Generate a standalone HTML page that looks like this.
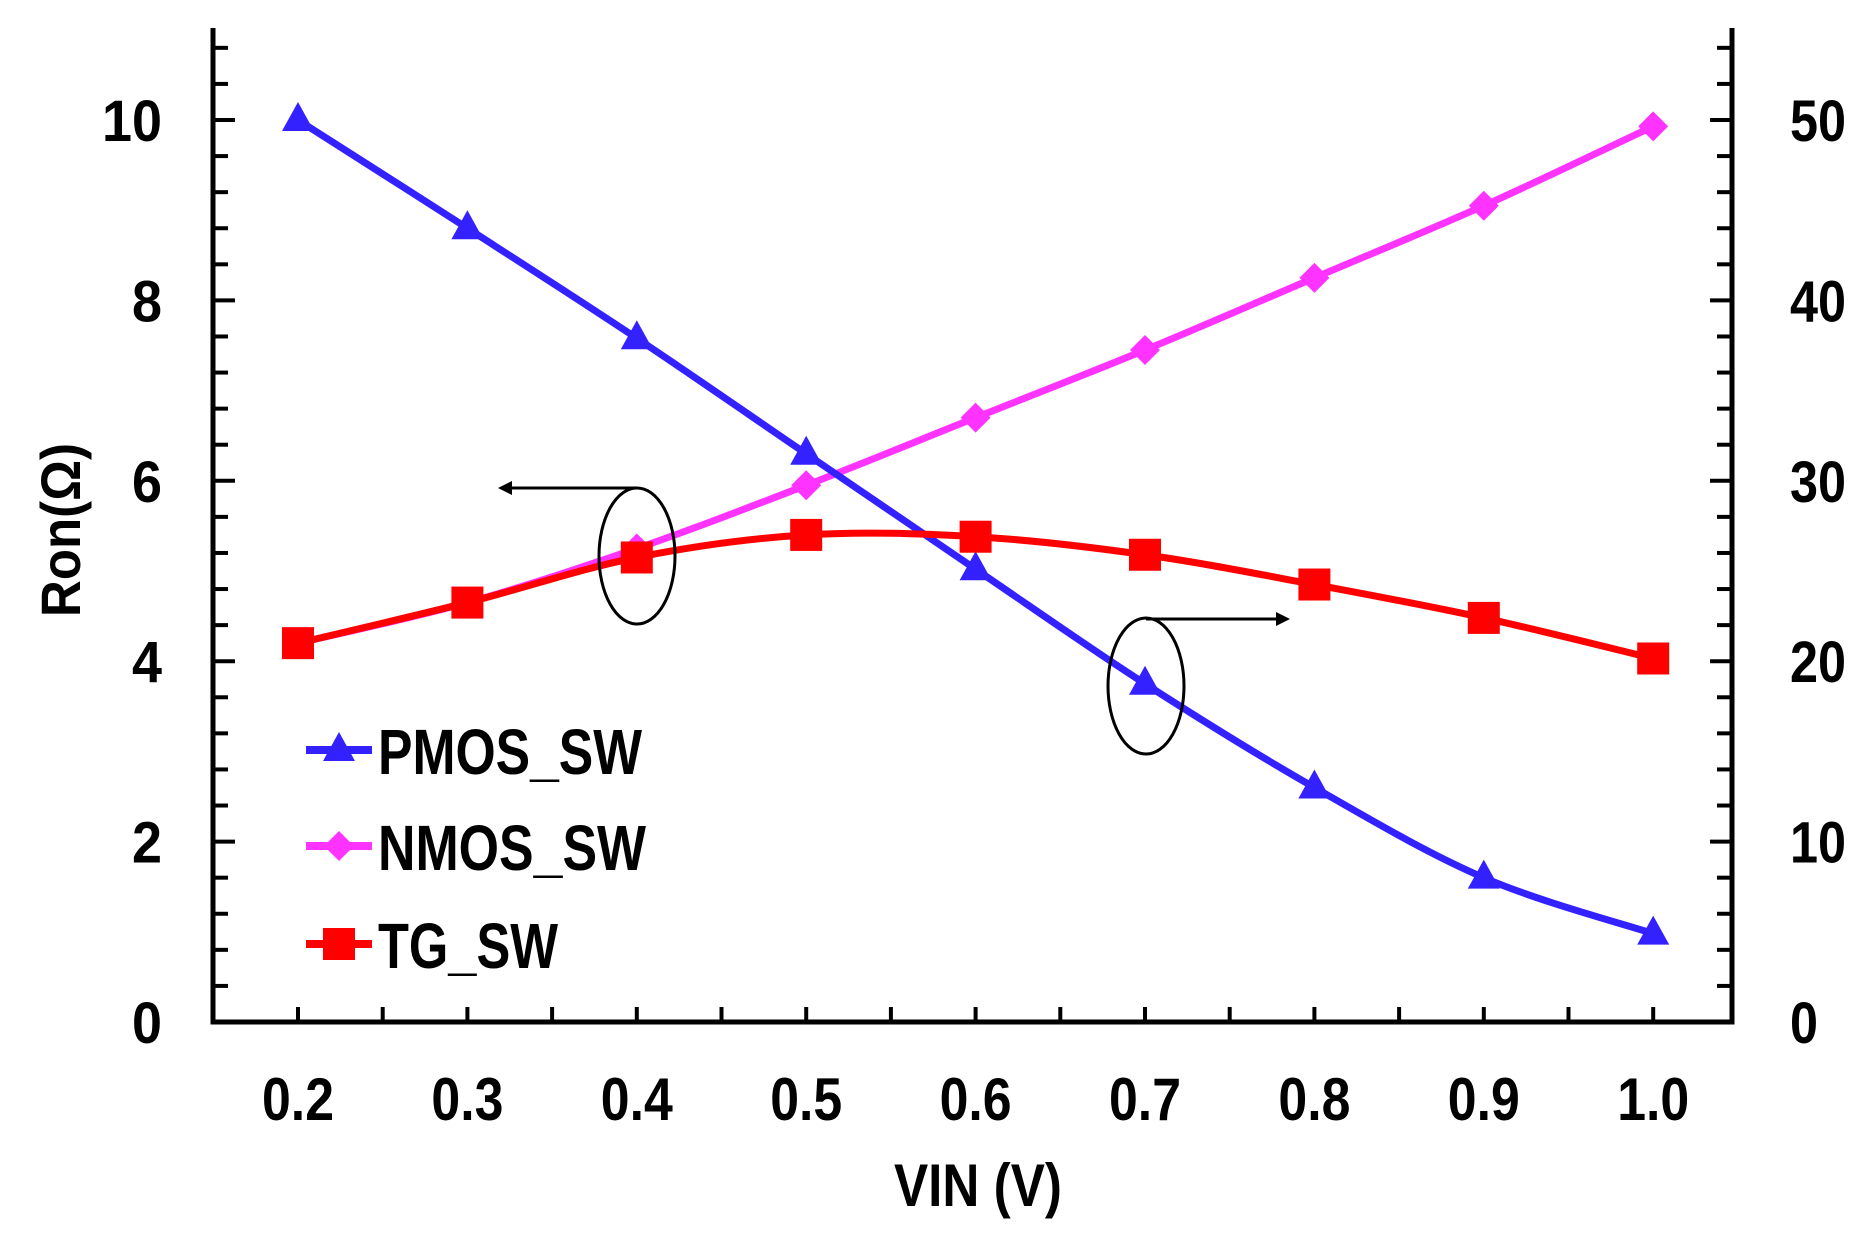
<!DOCTYPE html>
<html><head><meta charset="utf-8"><style>
html,body{margin:0;padding:0;background:#fff;}
svg{display:block;}
text{font-family:"Liberation Sans Narrow","Liberation Sans",sans-serif;font-weight:bold;fill:#000;}
</style></head><body>
<svg id="chart" width="1872" height="1233" viewBox="0 0 1872 1233" xmlns="http://www.w3.org/2000/svg">
<g id="axes"></g>
<g id="series"></g>
<g id="annot">
  <ellipse cx="637" cy="556" rx="38" ry="68" fill="none" stroke="#000" stroke-width="3"/>
  <path d="M637 488 H502" stroke="#000" stroke-width="3" fill="none"/>
  <path d="M512 481 L498 488 L512 495 Z" fill="#000"/>
  <ellipse cx="1146" cy="686" rx="38" ry="68" fill="none" stroke="#000" stroke-width="3"/>
  <path d="M1146 619 H1286" stroke="#000" stroke-width="3" fill="none"/>
  <path d="M1276 612 L1290 619 L1276 626 Z" fill="#000"/>
</g>
<g id="legend"></g>
</svg>
<script>
const xValues=[0.2,0.3,0.4,0.5,0.6,0.7,0.8,0.9,1.0];
const pmos=[10,8.8,7.58,6.3,5.02,3.75,2.6,1.6,0.98];
const nmos=[4.2,4.65,5.25,5.95,6.7,7.45,8.25,9.05,9.93];
const tg=[4.2,4.65,5.15,5.4,5.38,5.18,4.85,4.48,4.03];
const xTickLabels=["0.2","0.3","0.4","0.5","0.6","0.7","0.8","0.9","1.0"];
const leftTicks=[0,2,4,6,8,10];
const rightTickLabels=["0","10","20","30","40","50"];
const NS="http://www.w3.org/2000/svg";
const L=213,R=1732,B=1022,T=28;
function xs(v){return 298+(v-0.2)*1694;}
function ys(v){return B-v*90.2;}
function mk(tag,attrs,parent){const e=document.createElementNS(NS,tag);for(const k in attrs)e.setAttribute(k,attrs[k]);parent.appendChild(e);return e;}
const ax=document.getElementById('axes');
const a1=mk('path',{d:`M${L} ${T} V${B} H${R} V${T}`,stroke:'#000','stroke-width':5,fill:'none'},ax);


for(let v=0;v<=11.001;v+=0.4){
  const y=ys(v);const major=Math.abs(v/2-Math.round(v/2))<0.01;const len=major?22:15;
  mk('line',{x1:L,y1:y,x2:L+len,y2:y,stroke:'#000','stroke-width':4},ax);
}
for(let v=0;v<=55.01;v+=2){
  const y=ys(v/5);const major=v%10===0;const len=major?22:15;
  mk('line',{x1:R,y1:y,x2:R-len,y2:y,stroke:'#000','stroke-width':4},ax);
}
for(let v=0.15;v<=1.0501;v+=0.05){
  const x=xs(v);
  if(x<L+5||x>R-5)continue;
  mk('line',{x1:x,y1:B,x2:x,y2:B-15,stroke:'#000','stroke-width':4},ax);
}
leftTicks.forEach((v,i)=>{
  const s=String(v);
  const t=mk('text',{x:162,y:ys(v)+21,'text-anchor':'end','font-size':58,textLength:s.length*30,lengthAdjust:'spacingAndGlyphs'},ax);
  t.textContent=s;
  
  
  const rs=rightTickLabels[i];
  const r=mk('text',{x:1790,y:ys(v)+21,'font-size':58,textLength:rs.length*28,lengthAdjust:'spacingAndGlyphs'},ax);
  r.textContent=rs;
  
  
});
xValues.forEach((v,i)=>{
  const t=mk('text',{x:xs(v),y:1120,'text-anchor':'middle','font-size':60,textLength:72,lengthAdjust:'spacingAndGlyphs'},ax);
  t.textContent=xTickLabels[i];
  
  
});
const xt=mk('text',{x:978,y:1206,'text-anchor':'middle','font-size':60,textLength:168,lengthAdjust:'spacingAndGlyphs'},ax);
xt.textContent='VIN (V)';


const yt=mk('text',{x:0,y:0,'text-anchor':'middle','font-size':56,textLength:174,lengthAdjust:'spacingAndGlyphs',transform:'translate(80,530) rotate(-90)'},ax);
yt.textContent='Ron(Ω)';



function smooth(pts){
  let d=`M${pts[0][0]} ${pts[0][1]}`;
  for(let i=0;i<pts.length-1;i++){
    const p0=pts[Math.max(0,i-1)],p1=pts[i],p2=pts[i+1],p3=pts[Math.min(pts.length-1,i+2)];
    const c1=[p1[0]+(p2[0]-p0[0])/6,p1[1]+(p2[1]-p0[1])/6];
    const c2=[p2[0]-(p3[0]-p1[0])/6,p2[1]-(p3[1]-p1[1])/6];
    d+=` C${c1[0]} ${c1[1]} ${c2[0]} ${c2[1]} ${p2[0]} ${p2[1]}`;
  }
  return d;
}
function marker(type,x,y,color,parent){
  if(type==='tri')return mk('path',{d:`M${x} ${y-18} L${x+16} ${y+11} L${x-16} ${y+11} Z`,fill:color},parent);
  if(type==='dia')return mk('path',{d:`M${x} ${y-15} L${x+15} ${y} L${x} ${y+15} L${x-15} ${y} Z`,fill:color},parent);
  return mk('rect',{x:x-16,y:y-16,width:32,height:32,fill:color},parent);
}
const sg=document.getElementById('series');
const defs=[['nmos',nmos,'#ff33ff','dia'],['pmos',pmos,'#3322ff','tri'],['tg',tg,'#ff0000','sq']];
defs.forEach(([name,vals,color,type])=>{
  const g=mk('g',{},sg);
  
  
  const pts=xValues.map((v,i)=>[xs(v),ys(vals[i])]);
  const p=mk('path',{d:smooth(pts),stroke:color,'stroke-width':7,fill:'none'},g);
  
  
  pts.forEach(pt=>{
    const m=marker(type,pt[0],pt[1],color,g);
    
    
  });
});
const lg=document.getElementById('legend');
[['PMOS_SW','#3322ff','tri',750,264],['NMOS_SW','#ff33ff','dia',846,268],['TG_SW','#ff0000','sq',944,180]].forEach(([lab,color,type,y,w])=>{
  const g=mk('g',{},lg);
  
  
  mk('line',{x1:306,y1:y,x2:372,y2:y,stroke:color,'stroke-width':8},g);
  marker(type,339,y,color,g);
  const t=mk('text',{x:378,y:y+24,'font-size':64,textLength:w,lengthAdjust:'spacingAndGlyphs'},g);
  t.textContent=lab;
});
</script>
</body></html>
